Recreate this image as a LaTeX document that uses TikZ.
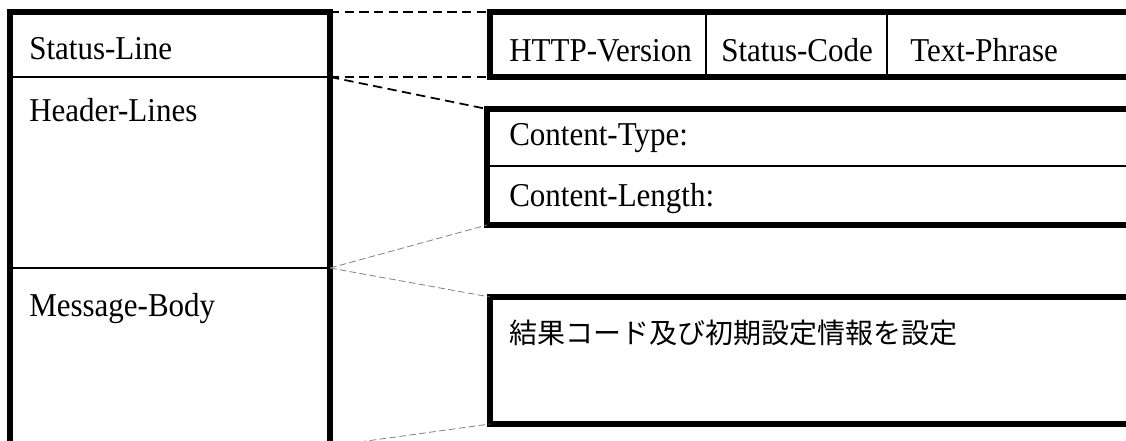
\documentclass[tikz,border=0pt]{standalone}
\usepackage{fontspec}
\setmainfont{Liberation Serif}[FakeStretch=0.93]
\newfontfamily\jpfont{Noto Sans CJK JP}
\tikzset{
  frame/.style={line width=4.5pt},
  rule/.style={line width=1.6pt},
  zoomline/.style={line width=1.3pt, dash pattern=on 7pt off 4pt},
  faintline/.style={gray, line width=0.6pt, dash pattern=on 5pt off 2.5pt},
  field/.style={anchor=base west, inner sep=0pt, font=\fontsize{25}{30}\selectfont},
}
\begin{document}
\begin{tikzpicture}[x=0.75pt,y=-0.75pt]
        \useasboundingbox (0,0) rectangle (1126,441);
        \clip (0,0) rectangle (1126,441);
        %% message
        \coordinate (msgtl) at (10,12);
        \coordinate (msgbr) at (330,446);
        \coordinate (msgs1) at (330,77);
        \coordinate (msgs2) at (330,268);
        \coordinate (msgtr) at (330,12);
        \draw[frame] (msgtl) rectangle (msgbr);
        \draw[rule] (10,77) -- (msgs1);
        \draw[rule] (10,268) -- (msgs2);
        \node[field] (statusline) at (29,60) {Status-Line};
        \node[field] (headerlines) at (29,122) {Header-Lines};
        \node[field] (messagebody) at (29,316) {Message-Body};
        %% status line
        \coordinate (stl) at (490,12);
        \coordinate (sbl) at (490,77);
        \draw[frame] (stl) rectangle (1140,77);
        \foreach \x in {706,887} \draw[rule] (\x,12) -- (\x,77);
        \node[field] (version) at (509,62) {HTTP-Version};
        \node[field] (code) at (721,62) {Status-Code};
        \node[field] (phrase) at (910,62) {Text-Phrase};
        %% header lines
        \coordinate (htl) at (487,109);
        \coordinate (hbl) at (487,225);
        \draw[frame] (htl) rectangle (1140,225);
        \draw[rule] (487,166) -- (1140,166);
        \node[field] (ctype) at (509,146) {Content-Type:};
        \node[field] (clength) at (509,207) {Content-Length:};
        %% message body
        \coordinate (btl) at (490,297);
        \coordinate (bbl) at (490,424);
        \draw[frame] (btl) rectangle (1140,424);
        \node[anchor=west, inner sep=0pt, font=\jpfont\fontsize{21}{25}\selectfont] (bodytext) at (509,333) {結果コード及び初期設定情報を設定};
        %% zoom lines
        \draw[zoomline] (msgtr) -- (stl);
        \draw[zoomline] (msgs1) -- (sbl);
        \draw[zoomline] (msgs1) -- (htl);
        \draw[faintline] (msgs2) -- (hbl);
        \draw[faintline] (msgs2) -- (btl);
        \draw[faintline] (msgbr) -- (bbl);
    \end{tikzpicture}
\end{document}
